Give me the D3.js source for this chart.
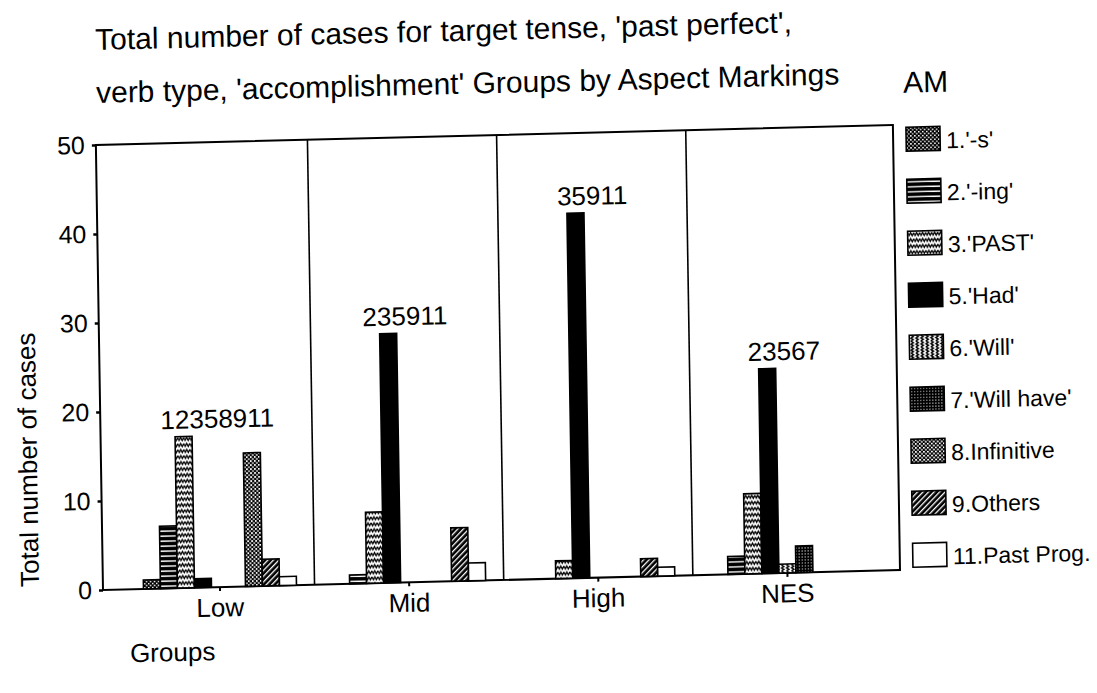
<!DOCTYPE html>
<html>
<head>
<meta charset="utf-8">
<script src="https://cdn.jsdelivr.net/npm/d3@7"></script>
<style>
  body { margin: 0; background: #fff; }
  svg { display: block; background: #fff; }
  text { font-family: "Liberation Sans", Arial, Helvetica, sans-serif; fill: #000; }
</style>
</head>
<body>
<svg id="chart" width="1097" height="693"></svg>
<script>
// ---- data ----
const groups = ["Low", "Mid", "High", "NES"];
const seriesCodes = ["1", "2", "3", "5", "6", "7", "8", "9", "11"];
const seriesNames = ["1.'-s'", "2.'-ing'", "3.'PAST'", "5.'Had'", "6.'Will'",
                     "7.'Will have'", "8.Infinitive", "9.Others", "11.Past Prog."];
// counts per group, in the order of seriesCodes
const lowValues  = [1, 7, 17, 1, 0, 0, 15, 3, 1];
const midValues  = [0, 1, 8, 28, 0, 0, 0, 6, 2];
const highValues = [0, 0, 2, 41, 0, 0, 0, 2, 1];
const nesValues  = [0, 2, 9, 23, 1, 3, 0, 0, 0];
const yTicks = [0, 10, 20, 30, 40, 50];
const titleLines = ["Total number of cases for target tense, 'past perfect',",
                    "verb type, 'accomplishment' Groups by Aspect Markings"];
const legendTitle = "AM";
const yTitle = "Total number of cases";
const xTitle = "Groups";

const valuesByGroup = { Low: lowValues, Mid: midValues, High: highValues, NES: nesValues };

// ---- layout ----
const frame = { left: 103, right: 900, top: 145, bottom: 590 };
const svg = d3.select("#chart");

// fill patterns for the aspect markings
const defs = svg.append("defs");
function pattern(id, w, h, build, transform) {
  const p = defs.append("pattern").attr("id", id).attr("patternUnits", "userSpaceOnUse")
    .attr("width", w).attr("height", h);
  if (transform) p.attr("patternTransform", transform);
  build(p);
}
pattern("p1", 4, 4, p => {
  p.append("rect").attr("width", 4).attr("height", 4).attr("fill", "#000");
  p.append("rect").attr("x", 0).attr("y", 0).attr("width", 1.5).attr("height", 1.5).attr("fill", "#fff");
  p.append("rect").attr("x", 2).attr("y", 2).attr("width", 1.5).attr("height", 1.5).attr("fill", "#fff");
});
pattern("p2", 6, 5, p => {
  p.append("rect").attr("width", 6).attr("height", 5).attr("fill", "#000");
  p.append("rect").attr("x", 0).attr("y", 2).attr("width", 6).attr("height", 1.4).attr("fill", "#fff");
});
pattern("p3", 6, 6, p => {
  p.append("rect").attr("width", 6).attr("height", 6).attr("fill", "#fff");
  p.append("path").attr("d", "M0,1.5 L1.5,4.5 L3,1.5 L4.5,4.5 L6,1.5")
    .attr("fill", "none").attr("stroke", "#000").attr("stroke-width", 1.3);
});
pattern("p5", 4, 4, p => {
  p.append("rect").attr("width", 4).attr("height", 4).attr("fill", "#000");
});
pattern("p6", 5, 6, p => {
  p.append("rect").attr("width", 5).attr("height", 6).attr("fill", "#fff");
  p.append("path").attr("d", "M1.5,0 L4,1.5 L1.5,3 L4,4.5 L1.5,6")
    .attr("fill", "none").attr("stroke", "#000").attr("stroke-width", 1.3);
});
pattern("p7", 3, 3, p => {
  p.append("rect").attr("width", 3).attr("height", 3).attr("fill", "#000");
  p.append("rect").attr("x", 1).attr("y", 1).attr("width", 1).attr("height", 1).attr("fill", "#fff");
});
pattern("p8", 4, 4, p => {
  p.append("rect").attr("width", 4).attr("height", 4).attr("fill", "#000");
  p.append("rect").attr("x", 0).attr("y", 0).attr("width", 1.7).attr("height", 1.7).attr("fill", "#fff");
  p.append("rect").attr("x", 2).attr("y", 2).attr("width", 1.7).attr("height", 1.7).attr("fill", "#fff");
});
pattern("p9", 4, 4, p => {
  p.append("rect").attr("width", 4).attr("height", 4).attr("fill", "#000");
  p.append("rect").attr("x", 0).attr("y", 0).attr("width", 1.3).attr("height", 4).attr("fill", "#fff");
}, "rotate(45)");
pattern("p11", 4, 4, p => {
  p.append("rect").attr("width", 4).attr("height", 4).attr("fill", "#fff");
});
const fillFor = code => `url(#p${code})`;

// the whole figure sits slightly skewed on the page
const g = svg.append("g")
  .attr("transform", `translate(${frame.left},${frame.bottom}) matrix(1,-0.025,0.016,1,0,0) translate(${-frame.left},${-frame.bottom})`);

// ---- scales ----
const x0 = d3.scaleBand().domain(groups).range([125.4, 882]).paddingInner(0).paddingOuter(0);
const clusterWidth = 153;
const x1 = d3.scaleBand().domain(seriesCodes)
  .range([(x0.bandwidth() - clusterWidth) / 2, (x0.bandwidth() + clusterWidth) / 2]);
const y = d3.scaleLinear().domain([0, 50]).range([frame.bottom, frame.top]);

// ---- titles ----
g.selectAll("text.title").data(titleLines).join("text")
  .attr("class", "title")
  .attr("x", 104).attr("y", (d, i) => i === 0 ? 50 : 103)
  .attr("font-size", 30).text(d => d);

// ---- frame and group dividers ----
g.append("rect")
  .attr("x", frame.left).attr("y", frame.top)
  .attr("width", frame.right - frame.left).attr("height", frame.bottom - frame.top)
  .attr("fill", "none").attr("stroke", "#000").attr("stroke-width", 2);
g.selectAll("line.divider").data(groups.slice(1)).join("line")
  .attr("class", "divider")
  .attr("x1", d => x0(d)).attr("x2", d => x0(d))
  .attr("y1", frame.top).attr("y2", frame.bottom)
  .attr("stroke", "#000").attr("stroke-width", 1.6);

// ---- axes ----
const yAxis = g.append("g").attr("transform", `translate(${frame.left},0)`)
  .call(d3.axisLeft(y).tickValues(yTicks).tickSize(4).tickPadding(7));
yAxis.select(".domain").remove();
yAxis.selectAll(".tick line").attr("stroke", "#000").attr("stroke-width", 2.5);
yAxis.selectAll(".tick text").attr("font-size", 25).attr("font-family", null).attr("fill", "#000");

const xAxis = g.append("g").attr("transform", `translate(0,${frame.bottom})`)
  .call(d3.axisBottom(x0).tickSize(4).tickPadding(7));
xAxis.select(".domain").remove();
xAxis.selectAll(".tick line").attr("stroke", "#000").attr("stroke-width", 2);
xAxis.selectAll(".tick text").attr("font-size", 26).attr("font-family", null).attr("fill", "#000");

// ---- bars ----
const barData = groups.flatMap(grp => seriesCodes.map((code, i) => ({
  group: grp, code, value: valuesByGroup[grp][i]
}))).filter(d => d.value > 0);

g.append("g").selectAll("rect").data(barData).join("rect")
  .attr("x", d => x0(d.group) + x1(d.code))
  .attr("y", d => y(d.value))
  .attr("width", x1.bandwidth())
  .attr("height", d => y(0) - y(d.value))
  .attr("fill", d => fillFor(d.code))
  .attr("stroke", "#000").attr("stroke-width", 1.6);

// group labels listing the markings present, above the tallest bar
g.append("g").selectAll("text").data(groups).join("text")
  .attr("x", d => x0(d) + x0.bandwidth() / 2)
  .attr("y", d => y(d3.max(valuesByGroup[d])) - 8)
  .attr("text-anchor", "middle").attr("font-size", 26)
  .text(d => seriesCodes.filter((c, i) => valuesByGroup[d][i] > 0).join(""));

// ---- axis titles ----
g.append("text")
  .attr("transform", "translate(39,458) rotate(-90)")
  .attr("text-anchor", "middle").attr("font-size", 26).text(yTitle);
g.append("text").attr("x", 129).attr("y", 663).attr("font-size", 26).text(xTitle);

// ---- legend ----
g.append("text").attr("x", 911).attr("y", 113).attr("font-size", 30).text(legendTitle);
const legend = g.append("g").selectAll("g").data(seriesCodes).join("g")
  .attr("transform", (d, i) => `translate(913,${147.5 + 52 * i})`);
legend.append("rect").attr("width", 34).attr("height", 24)
  .attr("fill", d => fillFor(d)).attr("stroke", "#000").attr("stroke-width", 1.6);
legend.append("text").attr("x", 40).attr("y", 22).attr("font-size", 23)
  .text((d, i) => seriesNames[i]);
</script>
</body>
</html>
